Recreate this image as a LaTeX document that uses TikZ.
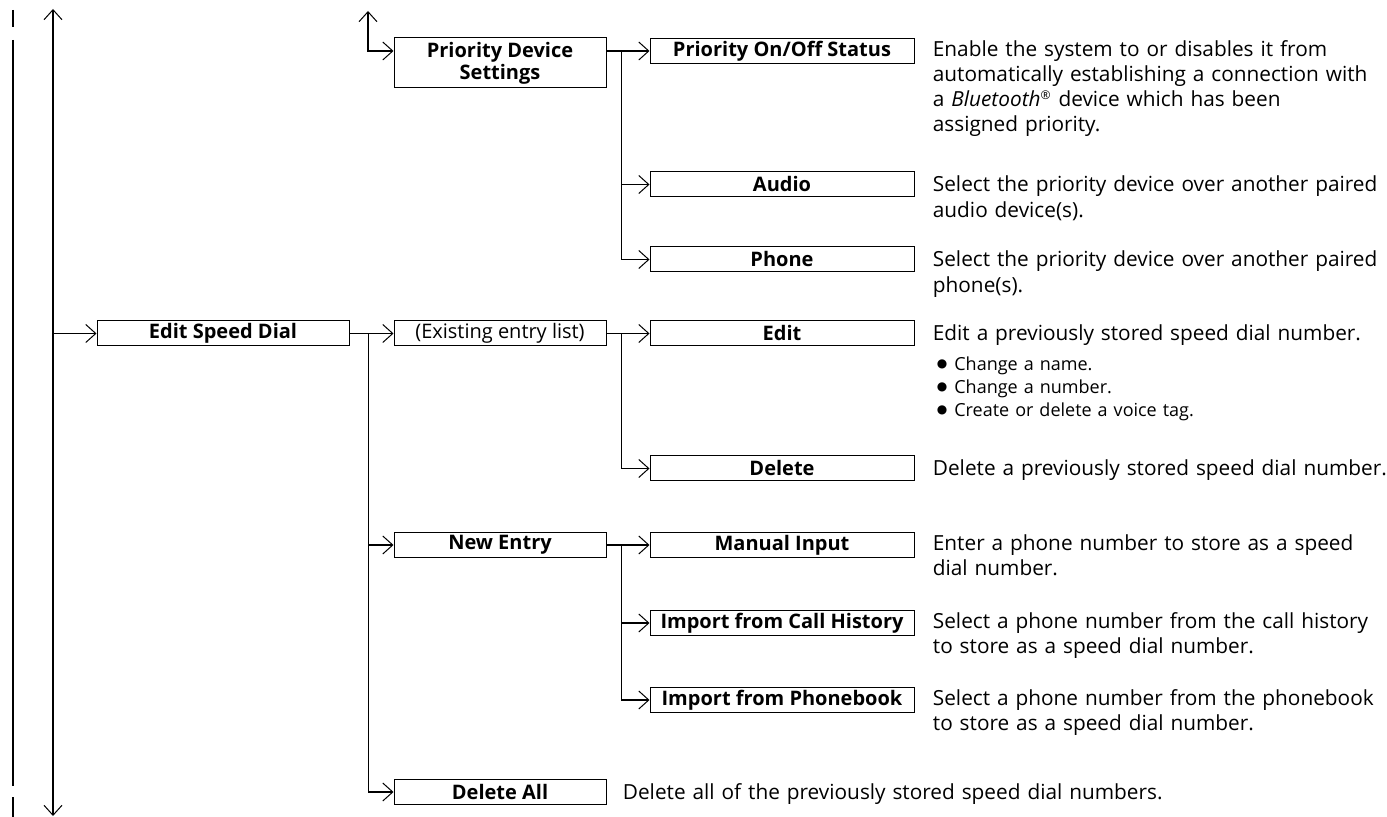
\documentclass[tikz,border=0pt]{standalone}
\usepackage{fontspec}
\setmainfont{Open Sans}
\newfontfamily\dotfont{DejaVu Sans}
\usetikzlibrary{arrows.meta,positioning}

\newcommand{\itemdot}{\raisebox{1.6pt}{\dotfont\fontsize{6}{6}\selectfont ●}\hspace{3.5pt}}

\begin{document}
\begin{tikzpicture}[x=0.5pt, y=-0.5pt,
    >={Straight Barb[length=5pt, width=9pt, line width=0.5pt]},
    box/.style={draw, line width=0.5pt, inner sep=0pt, minimum height=12.5pt,
      align=center, font=\fontsize{10}{11}\selectfont\bfseries},
    lvtwo/.style={box, minimum width=106pt},
    lvthree/.style={box, minimum width=132pt},
    desc/.style={anchor=base west, inner sep=0pt, text width=240pt, align=left,
      font=\fontsize{10.4}{12.6}\selectfont},
    note/.style={desc, font=\fontsize{9}{11.4}\selectfont},
    link/.style={line width=0.8pt},
  ]

  \useasboundingbox (0,0) rectangle (1387,817);

  % page break marker
  \draw[link] (13,10) -- (13,27) (13,40) -- (13,786) (13,797) -- (13,817);

  % menu boxes
  \node[lvtwo, minimum height=25pt] (pds) at (500,63) {Priority Device\\Settings};
  \node[lvthree] (pos) at (782,51) {Priority On/Off Status};
  \node[lvthree] (audio) at (782,184.5) {Audio};
  \node[lvthree] (phone) at (782,259.5) {Phone};

  \node[box, minimum width=126pt] (esd) at (223,333.5) {Edit Speed Dial};
  \node[lvtwo] (exist) at (500,333.5) {\mdseries(Existing entry list)};
  \node[lvthree] (edit) at (782,333.5) {Edit};
  \node[lvthree] (del) at (782,468.5) {Delete};
  \node[lvtwo] (new) at (500,545) {New Entry};
  \node[lvthree] (man) at (782,545) {Manual Input};
  \node[lvthree] (hist) at (782,623) {Import from Call History};
  \node[lvthree] (book) at (782,700) {Import from Phonebook};
  \node[lvtwo] (delall) at (500,792) {Delete All};

  % descriptions
  \node[desc] (dpos) at ([xshift=9pt]pos.base east)
    {Enable the system to or disables it from\\automatically establishing a connection with\\a \textit{Bluetooth}\textsuperscript{\fontsize{6}{6}\selectfont®} device which has been\\assigned priority.};
  \node[desc] (daudio) at ([xshift=9pt]audio.base east)
    {Select the priority device over another paired\\audio device(s).};
  \node[desc] (dphone) at ([xshift=9pt]phone.base east)
    {Select the priority device over another paired\\phone(s).};
  \node[desc] (dedit) at ([xshift=9pt]edit.base east)
    {Edit a previously stored speed dial number.};
  \node[note] (bedit) at ([xshift=2pt, yshift=-15pt]dedit.base west)
    {\itemdot Change a name.\\\itemdot Change a number.\\\itemdot Create or delete a voice tag.};
  \node[desc] (ddel) at ([xshift=9pt]del.base east)
    {Delete a previously stored speed dial number.};
  \node[desc] (dman) at ([xshift=9pt]man.base east)
    {Enter a phone number to store as a speed\\dial number.};
  \node[desc] (dhist) at ([xshift=9pt]hist.base east)
    {Select a phone number from the call history\\to store as a speed dial number.};
  \node[desc] (dbook) at ([xshift=9pt]book.base east)
    {Select a phone number from the phonebook\\to store as a speed dial number.};
  \node[desc, text width=300pt] (ddelall) at ([xshift=8pt]delall.base east)
    {Delete all of the previously stored speed dial numbers.};

  % main scroll line
  \coordinate (mtop) at (53,9);
  \coordinate (mbot) at (53,816);
  \draw[link, <->] (mtop) -- (mbot);
  \draw[link, ->] (mtop |- esd) -- (esd.west);

  % priority device branch
  \coordinate (ptop) at (368,11);
  \draw[link, <->] (ptop) |- ([yshift=6pt]pds.west);
  \draw[link, ->] (pds.east |- pos) -- (pos.west);
  \draw[link, ->] ([xshift=-14pt]pos.west) |- (audio.west);
  \draw[link, ->] ([xshift=-14pt]pos.west) |- (phone.west);

  % speed dial branch
  \draw[link, ->] (esd.east) -- (exist.west);
  \draw[link, ->] ([xshift=-12.5pt]exist.west) |- (new.west);
  \draw[link, ->] ([xshift=-12.5pt]exist.west) |- (delall.west);
  \draw[link, ->] (exist.east) -- (edit.west);
  \draw[link, ->] ([xshift=-14pt]edit.west) |- (del.west);
  \draw[link, ->] (new.east) -- (man.west);
  \draw[link, ->] ([xshift=-14pt]man.west) |- (hist.west);
  \draw[link, ->] ([xshift=-14pt]man.west) |- (book.west);

\end{tikzpicture}
\end{document}
